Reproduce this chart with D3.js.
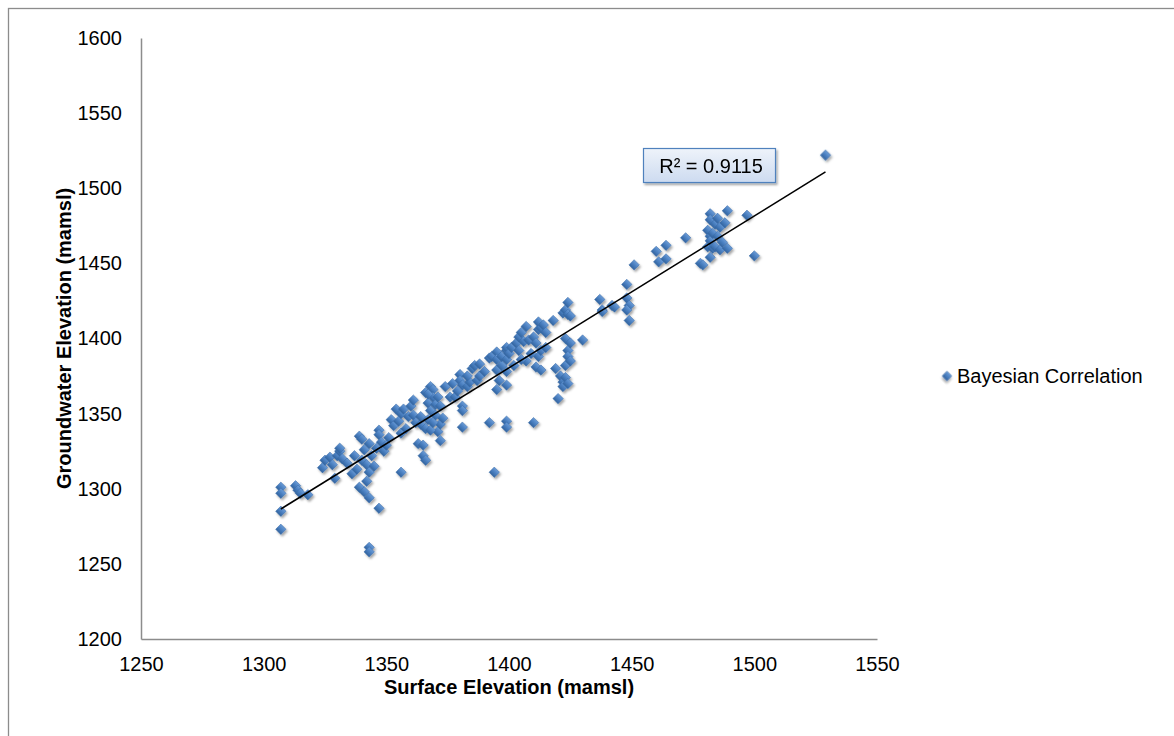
<!DOCTYPE html>
<html>
<head>
<meta charset="utf-8">
<script src="https://cdn.jsdelivr.net/npm/d3@7"></script>
<style>
  html, body { margin: 0; padding: 0; background: #fff; }
  svg { display: block; font-family: "Liberation Sans", Arial, sans-serif; }
</style>
</head>
<body>
<svg id="chart" width="1174" height="736"></svg>
<script>
// ---- Data ----
const surfaceElev = [
  1307,1307,1307,1307,1313,1314,1315,1318,
  1324,1325,1327,1328,1329,1330,1331,1332,1334,1336,1337,1338,1339,1339,1340,1340,1341,1341,1342,1342,1343,1343,1343,1343,1343,1344,1345,1331,1347,
  1346,1347,1347,1348,1349,1350,1351,1352,1353,1354,1355,1356,1356,1356,1357,1358,1359,1360,1361,1361,1362,1363,1364,1364,1365,1366,1366,1366,1367,1367,1368,1368,1369,1369,1370,1370,1371,1372,1372,1372,1373,1365,1368,1369,1371,1367,
  1374,1376,1378,1380,1380,1381,1381,1381,1381,1383,1384,1385,1386,1387,1388,1388,1392,1393,1395,1395,1395,1395,1396,1397,1397,1399,1399,1399,1399,1399,1392,1399,1399,1394,1383,1390,1377,1379,
  1400,1401,1403,1404,1404,1405,1406,1407,1408,1410,1410,1411,1411,1412,1412,1412,1413,1413,1413,1414,1415,1415,1418,1420,1419,1421,1422,1422,1422,1423,1423,1423,1423,1424,1424,1424,1424,1424,1425,1425,1425,1430,1407,1409,1402,1405,
  1437,1438,1438,1442,1443,1448,1448,1449,1448,1449,1451,1460,1461,1464,1464,1472,1478,1479,1481,1481,1482,1482,1482,1482,1482,1483,1483,1484,1484,1485,1485,1486,1486,1487,1488,1489,1489,1497,1500,1529
];
const groundwaterElev = [
  1301,1297,1285,1273,1302,1299,1297,1296,
  1314,1319,1321,1316,1307,1322,1325,1320,1317,1310,1322,1313,1335,1301,1333,1319,1298,1326,1305,1316,1294,1261,1258,1311,1330,1322,1315,1327,1287,
  1327,1339,1336,1331,1325,1329,1334,1346,1342,1353,1345,1350,1311,1337,1353,1340,1348,1355,1349,1359,1344,1330,1343,1348,1322,1319,1340,1364,1357,1346,1368,1352,1366,1361,1349,1356,1338,1355,1332,1343,1347,1329,1339,1344,1361,1363,
  1368,1361,1361,1376,1372,1369,1355,1352,1341,1368,1371,1380,1382,1372,1375,1383,1387,1388,1391,1386,1379,1366,1372,1382,1388,1369,1378,1386,1392,1394,1344,1345,1341,1311,1375,1378,1370,1365,
  1390,1394,1397,1392,1401,1404,1398,1408,1399,1344,1401,1381,1397,1406,1411,1388,1407,1392,1379,1409,1404,1394,1412,1360,1380,1375,1371,1368,1417,1419,1382,1374,1400,1424,1416,1392,1388,1370,1397,1385,1415,1399,1385,1390,1382,1386,
  1426,1419,1418,1422,1421,1436,1427,1422,1419,1412,1449,1458,1451,1462,1453,1467,1450,1449,1461,1472,1483,1479,1468,1465,1454,1470,1460,1476,1461,1480,1468,1474,1459,1464,1477,1485,1460,1482,1455,1522
];
const xTicks = [1250, 1300, 1350, 1400, 1450, 1500, 1550];
const yTicks = [1200, 1250, 1300, 1350, 1400, 1450, 1500, 1550, 1600];
const seriesName = "Bayesian Correlation";
const xTitle = "Surface Elevation (mamsl)";
const yTitle = "Groundwater Elevation (mamsl)";
const r2Label = "R\u00B2 = 0.9115";

// ---- Layout ----
const svg = d3.select("#chart");
const plot = { left: 141, right: 877, top: 38, bottom: 639 };
const FS = 20;

const x = d3.scaleLinear().domain([1250, 1550]).range([plot.left, plot.right]);
const y = d3.scaleLinear().domain([1200, 1600]).range([plot.bottom, plot.top]);

// defs: gradient + shadow
const defs = svg.append("defs");
const grad = defs.append("linearGradient").attr("id", "mk").attr("x1", 0).attr("y1", 0).attr("x2", 0).attr("y2", 1);
grad.append("stop").attr("offset", "0%").attr("stop-color", "#6a9bd6");
grad.append("stop").attr("offset", "50%").attr("stop-color", "#4a7fc0");
grad.append("stop").attr("offset", "100%").attr("stop-color", "#32649f");
const sh = defs.append("filter").attr("id", "sh").attr("x", "-50%").attr("y", "-50%").attr("width", "200%").attr("height", "200%");
sh.append("feDropShadow").attr("dx", 1.5).attr("dy", 2).attr("stdDeviation", 1.2)
  .attr("flood-color", "#000").attr("flood-opacity", 0.35);
const bgrad = defs.append("linearGradient").attr("id", "box").attr("x1", 0).attr("y1", 0).attr("x2", 0).attr("y2", 1);
bgrad.append("stop").attr("offset", "0%").attr("stop-color", "#eef3fa");
bgrad.append("stop").attr("offset", "100%").attr("stop-color", "#cddbf0");

// outer border
svg.append("rect").attr("x", 8.5).attr("y", 8.5).attr("width", 1200).attr("height", 800)
  .attr("fill", "none").attr("stroke", "#8c8c8c").attr("stroke-width", 1.3);

// axes
const xAxis = d3.axisBottom(x).tickValues(xTicks).tickSize(0).tickPadding(18).tickFormat(d3.format("d"));
const yAxis = d3.axisLeft(y).tickValues(yTicks).tickSize(0).tickPadding(19).tickFormat(d3.format("d"));

const gx = svg.append("g").attr("transform", `translate(0,${plot.bottom})`).call(xAxis);
const gy = svg.append("g").attr("transform", `translate(${plot.left},0)`).call(yAxis);
[gx, gy].forEach(g => {
  g.select(".domain").attr("stroke", "#8c8c8c").attr("stroke-width", 1.5);
  g.selectAll("text").attr("font-size", FS).attr("fill", "#000")
    .attr("font-family", "'Liberation Sans', Arial, sans-serif");
});

// axis titles
svg.append("text").attr("x", (plot.left + plot.right) / 2).attr("y", 694)
  .attr("text-anchor", "middle").attr("font-size", FS).attr("font-weight", "bold").text(xTitle);
svg.append("text").attr("transform", `translate(71,${(plot.top + plot.bottom) / 2}) rotate(-90)`)
  .attr("text-anchor", "middle").attr("font-size", FS).attr("font-weight", "bold").text(yTitle);

// markers
const diamond = d3.symbol().type(d3.symbolSquare).size(54);
const pts = surfaceElev.map((v, i) => [v, groundwaterElev[i]]);
svg.append("g").attr("filter", "url(#sh)")
  .selectAll("path").data(pts).join("path")
  .attr("d", diamond)
  .attr("transform", d => `translate(${x(d[0])},${y(d[1])}) rotate(45)`)
  .attr("fill", "url(#mk)")
  .attr("stroke", "#3a6aa8").attr("stroke-width", 0.5);

// linear trendline (least squares from the data)
const mx = d3.mean(surfaceElev), my = d3.mean(groundwaterElev);
let sxy = 0, sxx = 0;
surfaceElev.forEach((v, i) => { sxy += (v - mx) * (groundwaterElev[i] - my); sxx += (v - mx) * (v - mx); });
const slope = sxy / sxx, intercept = my - slope * mx;
const [x0, x1] = d3.extent(surfaceElev);
svg.append("line")
  .attr("x1", x(x0)).attr("y1", y(slope * x0 + intercept))
  .attr("x2", x(x1)).attr("y2", y(slope * x1 + intercept))
  .attr("stroke", "#000").attr("stroke-width", 1.6);

// R² label
const bx = 643, byy = 148, bw = 132, bh = 34;
svg.append("rect").attr("x", bx + 0.5).attr("y", byy + 0.5).attr("width", bw).attr("height", bh)
  .attr("fill", "url(#box)").attr("stroke", "#4f81bd").attr("stroke-width", 1.2)
  .attr("filter", "url(#sh)");
svg.append("text").attr("x", bx + bw / 2 + 2).attr("y", byy + 25).attr("text-anchor", "middle")
  .attr("font-size", FS).attr("fill", "#000").text(r2Label);

// legend
svg.append("path").attr("d", d3.symbol().type(d3.symbolSquare).size(44))
  .attr("transform", "translate(947,376) rotate(45)")
  .attr("fill", "url(#mk)").attr("stroke", "#3a6aa8").attr("stroke-width", 0.5)
  .attr("filter", "url(#sh)");
svg.append("text").attr("x", 957).attr("y", 383).attr("font-size", FS).attr("fill", "#000").text(seriesName);
</script>
</body>
</html>
